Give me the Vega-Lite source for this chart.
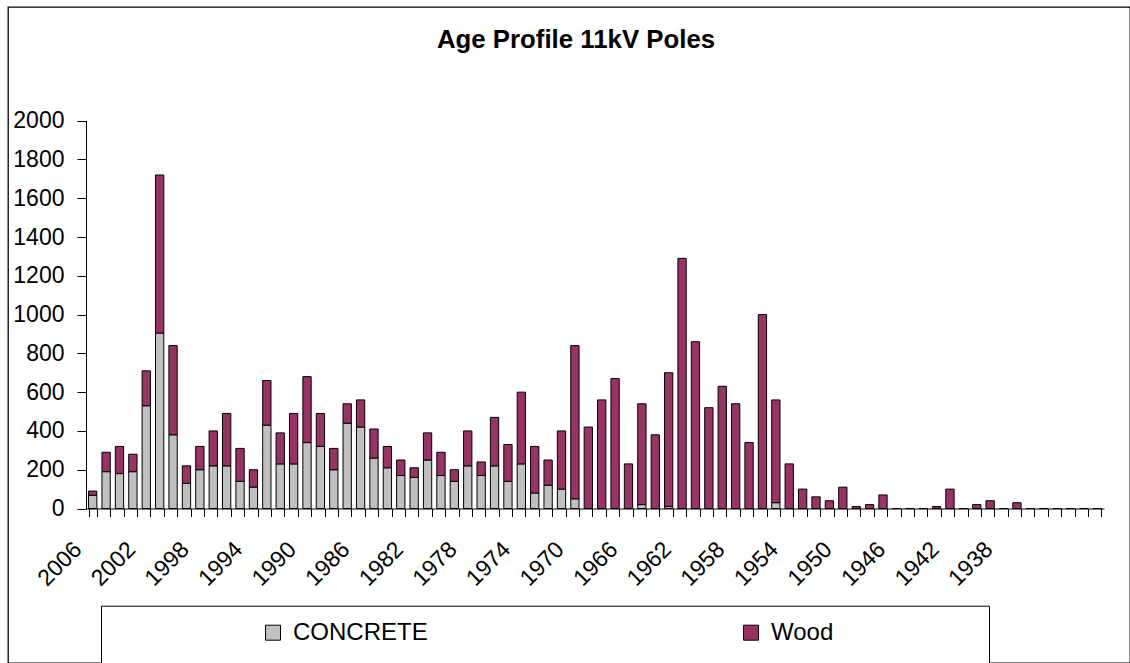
{
  "$schema": "https://vega.github.io/schema/vega-lite/v6.json",
  "autosize": {"type": "none"},
  "width": 1122,
  "height": 656,
  "padding": {"left": 8, "top": 7, "right": 0, "bottom": 0},
  "background": "white",
  "config": {
    "view": {"stroke": "black", "strokeWidth": 1.3},
    "font": "Liberation Sans"
  },
  "title": {
    "text": "Age Profile 11kV Poles",
    "font": "Liberation Sans",
    "fontSize": 25.8,
    "fontWeight": "bold",
    "color": "black",
    "anchor": "middle",
    "frame": "group",
    "baseline": "alphabetic",
    "offset": -67,
    "dx": 7
  },
  "data": {
    "values": [
      {"year": 2006, "type": "CONCRETE", "count": 68}, {"year": 2006, "type": "Wood", "count": 22},
      {"year": 2005, "type": "CONCRETE", "count": 190}, {"year": 2005, "type": "Wood", "count": 100},
      {"year": 2004, "type": "CONCRETE", "count": 180}, {"year": 2004, "type": "Wood", "count": 140},
      {"year": 2003, "type": "CONCRETE", "count": 190}, {"year": 2003, "type": "Wood", "count": 90},
      {"year": 2002, "type": "CONCRETE", "count": 530}, {"year": 2002, "type": "Wood", "count": 180},
      {"year": 2001, "type": "CONCRETE", "count": 905}, {"year": 2001, "type": "Wood", "count": 815},
      {"year": 2000, "type": "CONCRETE", "count": 380}, {"year": 2000, "type": "Wood", "count": 460},
      {"year": 1999, "type": "CONCRETE", "count": 130}, {"year": 1999, "type": "Wood", "count": 90},
      {"year": 1998, "type": "CONCRETE", "count": 200}, {"year": 1998, "type": "Wood", "count": 120},
      {"year": 1997, "type": "CONCRETE", "count": 220}, {"year": 1997, "type": "Wood", "count": 180},
      {"year": 1996, "type": "CONCRETE", "count": 220}, {"year": 1996, "type": "Wood", "count": 270},
      {"year": 1995, "type": "CONCRETE", "count": 140}, {"year": 1995, "type": "Wood", "count": 170},
      {"year": 1994, "type": "CONCRETE", "count": 110}, {"year": 1994, "type": "Wood", "count": 90},
      {"year": 1993, "type": "CONCRETE", "count": 430}, {"year": 1993, "type": "Wood", "count": 230},
      {"year": 1992, "type": "CONCRETE", "count": 230}, {"year": 1992, "type": "Wood", "count": 160},
      {"year": 1991, "type": "CONCRETE", "count": 230}, {"year": 1991, "type": "Wood", "count": 260},
      {"year": 1990, "type": "CONCRETE", "count": 340}, {"year": 1990, "type": "Wood", "count": 340},
      {"year": 1989, "type": "CONCRETE", "count": 320}, {"year": 1989, "type": "Wood", "count": 170},
      {"year": 1988, "type": "CONCRETE", "count": 200}, {"year": 1988, "type": "Wood", "count": 110},
      {"year": 1987, "type": "CONCRETE", "count": 440}, {"year": 1987, "type": "Wood", "count": 100},
      {"year": 1986, "type": "CONCRETE", "count": 420}, {"year": 1986, "type": "Wood", "count": 140},
      {"year": 1985, "type": "CONCRETE", "count": 260}, {"year": 1985, "type": "Wood", "count": 150},
      {"year": 1984, "type": "CONCRETE", "count": 210}, {"year": 1984, "type": "Wood", "count": 110},
      {"year": 1983, "type": "CONCRETE", "count": 170}, {"year": 1983, "type": "Wood", "count": 80},
      {"year": 1982, "type": "CONCRETE", "count": 160}, {"year": 1982, "type": "Wood", "count": 50},
      {"year": 1981, "type": "CONCRETE", "count": 250}, {"year": 1981, "type": "Wood", "count": 140},
      {"year": 1980, "type": "CONCRETE", "count": 170}, {"year": 1980, "type": "Wood", "count": 120},
      {"year": 1979, "type": "CONCRETE", "count": 140}, {"year": 1979, "type": "Wood", "count": 60},
      {"year": 1978, "type": "CONCRETE", "count": 220}, {"year": 1978, "type": "Wood", "count": 180},
      {"year": 1977, "type": "CONCRETE", "count": 170}, {"year": 1977, "type": "Wood", "count": 70},
      {"year": 1976, "type": "CONCRETE", "count": 220}, {"year": 1976, "type": "Wood", "count": 250},
      {"year": 1975, "type": "CONCRETE", "count": 140}, {"year": 1975, "type": "Wood", "count": 190},
      {"year": 1974, "type": "CONCRETE", "count": 230}, {"year": 1974, "type": "Wood", "count": 370},
      {"year": 1973, "type": "CONCRETE", "count": 80}, {"year": 1973, "type": "Wood", "count": 240},
      {"year": 1972, "type": "CONCRETE", "count": 120}, {"year": 1972, "type": "Wood", "count": 130},
      {"year": 1971, "type": "CONCRETE", "count": 100}, {"year": 1971, "type": "Wood", "count": 300},
      {"year": 1970, "type": "CONCRETE", "count": 50}, {"year": 1970, "type": "Wood", "count": 790},
      {"year": 1969, "type": "Wood", "count": 420},
      {"year": 1968, "type": "Wood", "count": 560},
      {"year": 1967, "type": "Wood", "count": 670},
      {"year": 1966, "type": "Wood", "count": 230},
      {"year": 1965, "type": "CONCRETE", "count": 20}, {"year": 1965, "type": "Wood", "count": 520},
      {"year": 1964, "type": "Wood", "count": 380},
      {"year": 1963, "type": "CONCRETE", "count": 10}, {"year": 1963, "type": "Wood", "count": 690},
      {"year": 1962, "type": "Wood", "count": 1290},
      {"year": 1961, "type": "Wood", "count": 860},
      {"year": 1960, "type": "Wood", "count": 520},
      {"year": 1959, "type": "Wood", "count": 630},
      {"year": 1958, "type": "Wood", "count": 540},
      {"year": 1957, "type": "Wood", "count": 340},
      {"year": 1956, "type": "Wood", "count": 1000},
      {"year": 1955, "type": "CONCRETE", "count": 30}, {"year": 1955, "type": "Wood", "count": 530},
      {"year": 1954, "type": "Wood", "count": 230},
      {"year": 1953, "type": "Wood", "count": 100},
      {"year": 1952, "type": "Wood", "count": 60},
      {"year": 1951, "type": "Wood", "count": 40},
      {"year": 1950, "type": "Wood", "count": 110},
      {"year": 1949, "type": "Wood", "count": 10},
      {"year": 1948, "type": "Wood", "count": 20},
      {"year": 1947, "type": "Wood", "count": 70},
      {"year": 1946, "type": "Wood", "count": 0},
      {"year": 1945, "type": "Wood", "count": 0},
      {"year": 1944, "type": "Wood", "count": 0},
      {"year": 1943, "type": "Wood", "count": 10},
      {"year": 1942, "type": "Wood", "count": 100},
      {"year": 1941, "type": "Wood", "count": 0},
      {"year": 1940, "type": "Wood", "count": 20},
      {"year": 1939, "type": "Wood", "count": 40},
      {"year": 1938, "type": "Wood", "count": 0},
      {"year": 1937, "type": "Wood", "count": 30},
      {"year": 1936, "type": "Wood", "count": 0},
      {"year": 1935, "type": "Wood", "count": 0},
      {"year": 1934, "type": "Wood", "count": 0},
      {"year": 1933, "type": "Wood", "count": 0},
      {"year": 1932, "type": "Wood", "count": 0},
      {"year": 1931, "type": "Wood", "count": 0}
    ]
  },
  "mark": {"type": "bar", "stroke": "black", "strokeWidth": 1},
  "encoding": {
    "x": {
      "field": "year",
      "type": "ordinal",
      "sort": "descending",
      "scale": {"range": [78, 1096], "paddingInner": 0.38, "paddingOuter": 0.19},
      "axis": {
        "title": null,
        "orient": "bottom",
        "offset": -154.5,
        "labelAngle": -45,
        "labelAlign": "right",
        "labelBaseline": "middle",
        "labelExpr": "(2006 - datum.value) % 4 == 0 && datum.value >= 1938 ? datum.label : ''",
        "labelOverlap": false,
        "tickBand": "extent",
        "tickSize": 8,
        "labelPadding": 29,
        "labelOffset": -15,
        "labelFont": "Liberation Sans",
        "labelFontSize": 23,
        "labelColor": "black",
        "domainColor": "black",
        "tickColor": "black",
        "grid": false
      }
    },
    "y": {
      "field": "count",
      "type": "quantitative",
      "stack": "zero",
      "scale": {"domain": [0, 2000], "range": [501.5, 113.7], "nice": false},
      "axis": {
        "title": null,
        "offset": -78,
        "values": [0, 200, 400, 600, 800, 1000, 1200, 1400, 1600, 1800, 2000],
        "format": "d",
        "tickSize": 9,
        "labelPadding": 13,
        "labelFont": "Liberation Sans",
        "labelFontSize": 23,
        "labelColor": "black",
        "domainColor": "black",
        "tickColor": "black",
        "grid": false
      }
    },
    "color": {
      "field": "type",
      "type": "nominal",
      "scale": {"domain": ["CONCRETE", "Wood"], "range": ["#C0C0C0", "#993366"]},
      "legend": {
        "orient": "none",
        "legendX": 93,
        "legendY": 598.7,
        "direction": "horizontal",
        "title": "\u200b\u00a0\u00a0\u00a0\u00a0\u00a0\u00a0\u00a0\u00a0\u00a0\u00a0\u00a0\u00a0\u00a0\u00a0\u00a0\u00a0\u00a0\u200b",
        "titleOrient": "left",
        "titlePadding": 0,
        "titleFont": "Liberation Sans",
        "titleFontSize": 30.5,
        "titleBaseline": "top",
        "padding": 15,
        "strokeColor": "black",
        "fillColor": "white",
        "symbolType": "square",
        "symbolSize": 225,
        "symbolStrokeColor": "black",
        "symbolStrokeWidth": 1,
        "symbolOpacity": 1,
        "labelFont": "Liberation Sans",
        "labelFontSize": 24,
        "labelColor": "black",
        "labelOffset": 8,
        "labelLimit": 0,
        "columnPadding": 311,
        "labelExpr": "datum.label == 'Wood' ? datum.label + '\u00a0\u00a0\u00a0\u00a0\u00a0\u00a0\u00a0\u00a0\u00a0\u00a0\u00a0\u00a0\u00a0\u00a0\u00a0\u00a0\u00a0\u00a0\u00a0\u00a0\u00a0\u200b' : datum.label"
      }
    },
    "order": {"field": "type", "sort": "ascending"}
  }
}
